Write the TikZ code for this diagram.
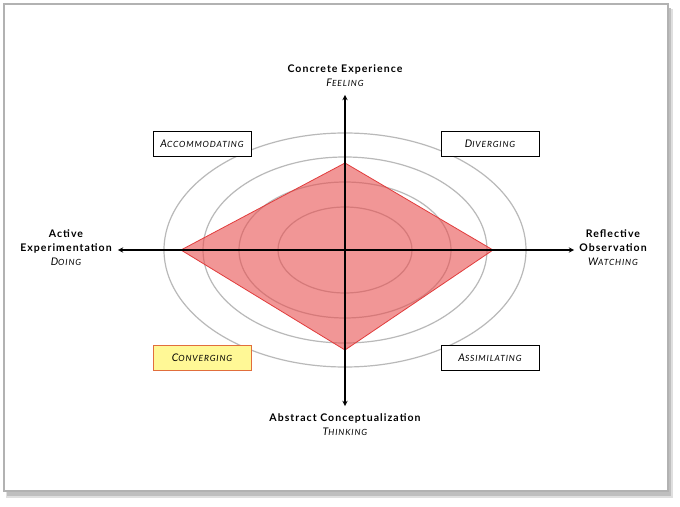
\documentclass[tikz,border=0pt]{standalone}
\usepackage{fontspec}
\setmainfont{Lato}[LetterSpace=10]
\tikzset{>=stealth}
\definecolor{diamondred}{RGB}{232,80,80}
\definecolor{diamondedge}{RGB}{225,60,60}
\definecolor{convfill}{RGB}{255,248,150}
\definecolor{convedge}{RGB}{225,110,60}
\newcommand{\smcp}[2]{#1{\fontsize{8.5}{9}\selectfont #2}}

\begin{document}
\begin{tikzpicture}[x=1pt, y=1pt,
    stylebox/.style={draw=black, line width=0.9pt, fill=white, minimum width=98pt, minimum height=25pt, inner sep=0pt, font=\itshape\fontsize{10.5}{11}\selectfont},
    hibox/.style={stylebox, draw=convedge, fill=convfill},
    pole/.style={align=center, font=\bfseries\fontsize{10.5}{14}\selectfont},
    ring/.style={draw=gray!55, line width=1.2pt},
    axis/.style={<->, line width=1.3pt}]
    \useasboundingbox (-345,-256) rectangle (335,250);
    % frame with shadow
    \fill[gray!25] (-339,241) rectangle (328,-248);
    \fill[gray!50] (-338,242) rectangle (326,-246);
    \filldraw[fill=white, draw=gray!60, line width=2pt] (-341,246) rectangle (323,-241);
    % rings
    \foreach \rx/\ry in {67/43, 106/68, 142/93, 181/117}
    \draw[ring] (0,0) ellipse [x radius=\rx, y radius=\ry];
    % profile
    \coordinate (top) at (0,87);
    \coordinate (rgt) at (148,0);
    \coordinate (bot) at (0,-100);
    \coordinate (lft) at (-164,0);
    \filldraw[fill=diamondred, fill opacity=0.6, draw=diamondedge, line width=0.8pt] (top) -- (rgt) -- (bot) -- (lft) -- cycle;
    % axes
    \coordinate (ae) at (-227,0);
    \coordinate (ro) at (229,0);
    \coordinate (ce) at (0,155);
    \coordinate (ac) at (0,-156);
    \draw[axis] (ae) -- (ro);
    \draw[axis] (ac) -- (ce);
    % poles
    \node[pole] (cexp) at (0,174) {Concrete Experience\\ \mdseries\itshape\smcp{F}{EELING}};
    \node[pole] (aexp) at (-279,2) {Active\\ Experimentation\\ \mdseries\itshape\smcp{D}{OING}};
    \node[pole] (robs) at (268,2) {Reflective\\ Observation\\ \mdseries\itshape\smcp{W}{ATCHING}};
    \node[pole] (acon) at (0,-175) {Abstract Conceptualization\\ \mdseries\itshape\smcp{T}{HINKING}};
    % styles
    \node[stylebox] (accom) at (-143,106.5) {\smcp{A}{CCOMMODATING}};
    \node[stylebox] (diver) at (145,106.5) {\smcp{D}{IVERGING}};
    \node[hibox] (conv) at (-143,-107.5) {\smcp{C}{ONVERGING}};
    \node[stylebox] (assim) at (145,-107.5) {\smcp{A}{SSIMILATING}};
\end{tikzpicture}
\end{document}
